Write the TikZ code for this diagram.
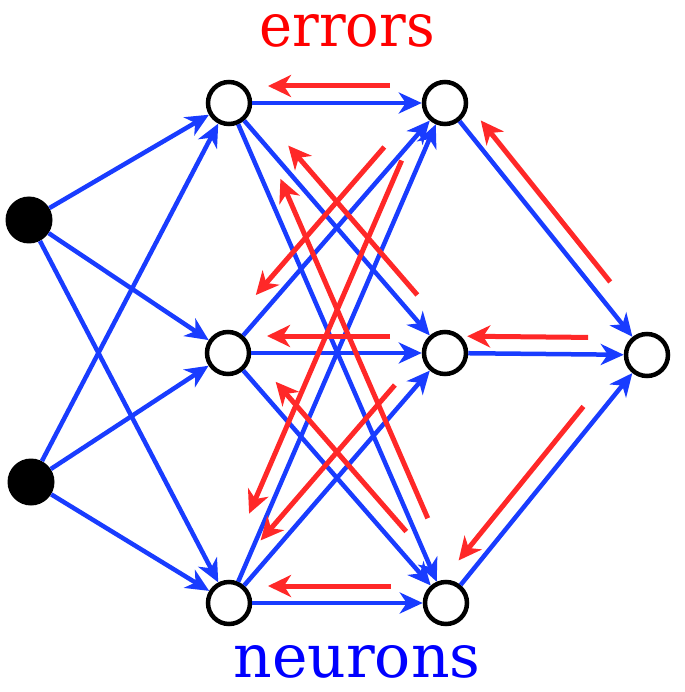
\documentclass[tikz,border=0pt]{standalone}
\usepackage{fontspec}
\setmainfont{DejaVu Serif}
\usetikzlibrary{calc,arrows.meta}
\definecolor{edgeblue}{RGB}{25,60,255}
\definecolor{errred}{RGB}{255,40,40}
\tikzset{
  hid/.style={circle,draw=black,fill=white,line width=4.5pt,minimum size=42pt,inner sep=0pt},
  inp/.style={circle,fill=black,minimum size=47pt,inner sep=0pt},
  fw/.style={draw=edgeblue,line width=4.5pt,-{Stealth[length=23pt,width=21pt,inset=7pt]}},
  bw/.style={draw=errred,line width=5pt,-{Stealth[length=23pt,width=22pt,inset=7pt]}},
}
\newcommand\errarr[4]{\draw[bw] ($(#2)!#4!(#1)!17pt!-90:(#1)$) -- ($(#1)!#3!(#2)!17pt!90:(#2)$);}
\begin{document}
\begin{tikzpicture}[x=1pt,y=-1pt]
\useasboundingbox (0,0) rectangle (684,692);
\node[inp] (I1) at (29,220) {};
\node[inp] (I2) at (31,482) {};
\node[hid] (A1) at (229,103) {};
\node[hid] (A2) at (228,353) {};
\node[hid] (A3) at (229,603) {};
\node[hid] (B1) at (445,103) {};
\node[hid] (B2) at (445,353) {};
\node[hid] (B3) at (446,603) {};
\node[hid] (O) at (647,355) {};
\foreach \s in {I1,I2}{\foreach \t in {A1,A2,A3}{\draw[fw] (\s) -- (\t);}}
\foreach \s in {A1,A2,A3}{\foreach \t in {B1,B2,B3}{\draw[fw] (\s) -- (\t);}}
\foreach \s in {B1,B2,B3}{\draw[fw] (\s) -- (O);}
\errarr{A1}{B1}{39pt}{55pt}
\errarr{A2}{B2}{39pt}{55pt}
\errarr{A3}{B3}{39pt}{55pt}
\errarr{B2}{O}{22pt}{59pt}
\errarr{B1}{O}{36pt}{80pt}
\errarr{B3}{O}{41pt}{80pt}
\errarr{A1}{B2}{71pt}{62pt}
\errarr{A1}{B3}{90pt}{85pt}
\errarr{A2}{B1}{62pt}{73pt}
\errarr{A3}{B1}{90pt}{70pt}
\errarr{A2}{B3}{53pt}{80pt}
\errarr{A3}{B2}{68pt}{57pt}
\node[text=red,font=\fontsize{60}{60}\selectfont,anchor=base,xscale=0.93,inner sep=0pt] (err) at (347,47) {errors};
\node[text=blue,font=\fontsize{60}{60}\selectfont,anchor=base,inner sep=0pt] (neu) at (357,677) {neurons};
\end{tikzpicture}
\end{document}
